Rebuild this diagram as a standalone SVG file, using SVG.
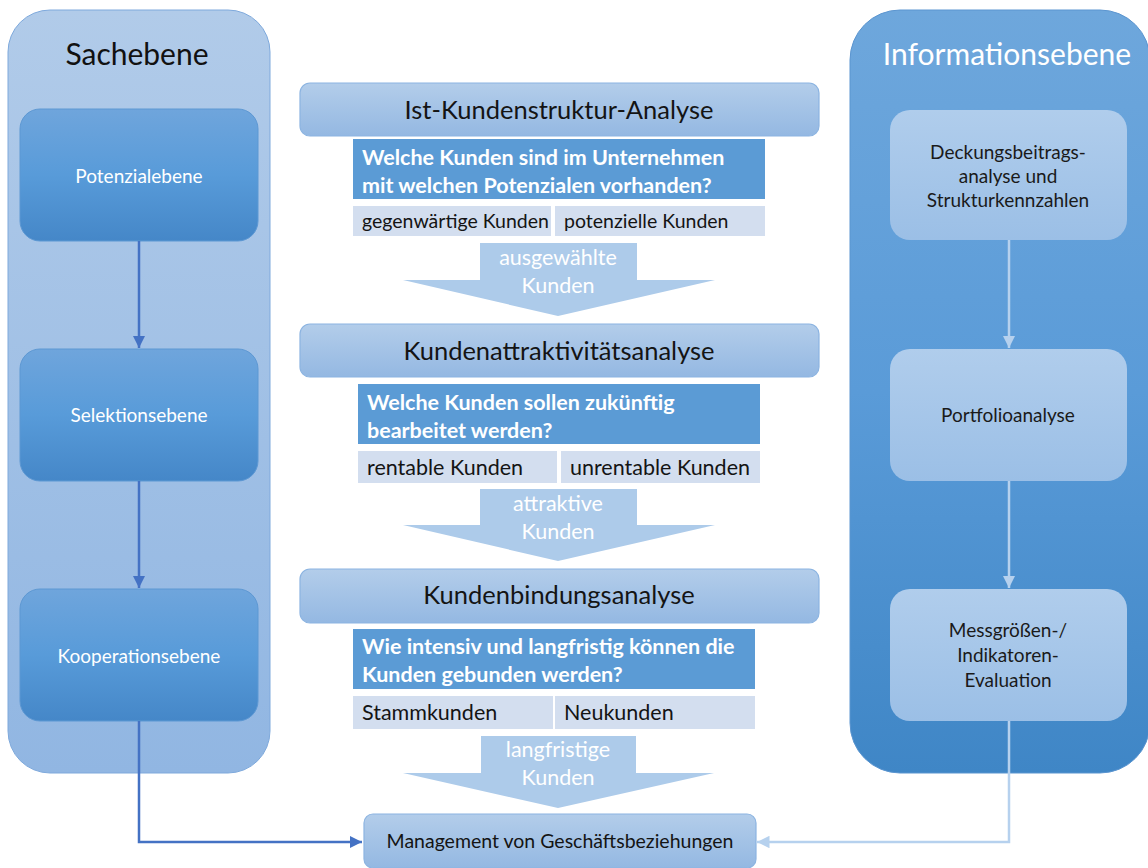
<svg xmlns="http://www.w3.org/2000/svg" width="1148" height="868" viewBox="0 0 1148 868">
  <defs>
    <linearGradient id="gLeftPanel" x1="0" y1="0" x2="0" y2="1">
      <stop offset="0" stop-color="#b1cbe9"/>
      <stop offset="1" stop-color="#91b6e2"/>
    </linearGradient>
    <linearGradient id="gLeftNode" x1="0" y1="0" x2="0" y2="1">
      <stop offset="0" stop-color="#6fa5dc"/>
      <stop offset="0.5" stop-color="#589bd9"/>
      <stop offset="1" stop-color="#4587c8"/>
    </linearGradient>
    <linearGradient id="gRightPanel" x1="0" y1="0" x2="0" y2="1">
      <stop offset="0" stop-color="#6ea7dc"/>
      <stop offset="0.5" stop-color="#5a9bd8"/>
      <stop offset="1" stop-color="#3f86c6"/>
    </linearGradient>
    <linearGradient id="gRightNode" x1="0" y1="0" x2="0" y2="1">
      <stop offset="0" stop-color="#b0cdec"/>
      <stop offset="1" stop-color="#9bbfe6"/>
    </linearGradient>
    <linearGradient id="gHeader" x1="0" y1="0" x2="0" y2="1">
      <stop offset="0" stop-color="#b3cdea"/>
      <stop offset="1" stop-color="#94b8e2"/>
    </linearGradient>
    <marker id="arrDark" viewBox="0 0 10 10" refX="10" refY="5" markerWidth="5" markerHeight="5" orient="auto" markerUnits="strokeWidth">
      <path d="M0,0 L10,5 L0,10 z" fill="#4472c4"/>
    </marker>
    <marker id="arrLight" viewBox="0 0 10 10" refX="10" refY="5" markerWidth="5" markerHeight="5" orient="auto" markerUnits="strokeWidth">
      <path d="M0,0 L10,5 L0,10 z" fill="#b6d1ee"/>
    </marker>
  </defs>
  <style>
    text { font-family: Lato, "Liberation Sans", sans-serif; }
    .panelL { fill: url(#gLeftPanel); stroke: #7ea9dc; stroke-width: 1; }
    .panelR { fill: url(#gRightPanel); stroke: #5b95d0; stroke-width: 1; }
    .nodeL { fill: url(#gLeftNode); stroke: #5d98d3; stroke-width: 1; }
    .nodeR { fill: url(#gRightNode); stroke: none; }
    .hdr { fill: url(#gHeader); stroke: #8cb4e1; stroke-width: 1.2; }
    .q { fill: #5b9bd5; }
    .sub { fill: #d3deef; }
    .flow { fill: #adcbea; }
    .ttl { font-size: 30px; text-anchor: middle; }
    .lbl { font-size: 19px; text-anchor: middle; }
    .hdrT { font-size: 25.5px; fill: #141414; text-anchor: middle; }
    .qT { font-size: 21.5px; font-weight: bold; fill: #ffffff; }
    .subT { font-size: 21.5px; fill: #141414; }
    .subS { font-size: 19.5px; fill: #141414; }
    .flowT { font-size: 21.5px; fill: #ffffff; text-anchor: middle; }
    .mgmt { font-size: 19.5px; fill: #141414; text-anchor: middle; }
    .dark { stroke: #4472c4; stroke-width: 2.5; fill: none; }
    .light { stroke: #b6d1ee; stroke-width: 2.5; fill: none; }
  </style>

  <!-- left column: Sachebene -->
  <g id="sachebene">
    <rect class="panelL" x="8" y="10" width="262" height="763" rx="42"/>
    <text class="ttl" x="137" y="65" fill="#111111">Sachebene</text>
  </g>
  <g id="potenzialebene">
    <rect class="nodeL" x="20" y="109" width="238" height="132" rx="20"/>
    <text class="lbl" x="139" y="183" fill="#ffffff">Potenzialebene</text>
  </g>
  <g id="selektionsebene">
    <rect class="nodeL" x="20" y="349" width="238" height="132" rx="20"/>
    <text class="lbl" x="139" y="422" fill="#ffffff">Selektionsebene</text>
  </g>
  <g id="kooperationsebene">
    <rect class="nodeL" x="20" y="589" width="238" height="132" rx="20"/>
    <text class="lbl" x="139" y="663" fill="#ffffff">Kooperationsebene</text>
  </g>

  <!-- right column: Informationsebene -->
  <g id="informationsebene">
    <rect class="panelR" x="850" y="10" width="300" height="763" rx="50"/>
    <text class="ttl" x="1007" y="65" fill="#ffffff">Informationsebene</text>
  </g>
  <g id="deckungsbeitrag">
    <rect class="nodeR" x="890" y="110" width="237" height="130" rx="20"/>
    <text class="lbl" x="1008" y="159" fill="#1a1a1a">Deckungsbeitrags-</text>
    <text class="lbl" x="1008" y="183" fill="#1a1a1a">analyse und</text>
    <text class="lbl" x="1008" y="207" fill="#1a1a1a">Strukturkennzahlen</text>
  </g>
  <g id="portfolioanalyse">
    <rect class="nodeR" x="890" y="349" width="237" height="132" rx="20"/>
    <text class="lbl" x="1008" y="422" fill="#1a1a1a">Portfolioanalyse</text>
  </g>
  <g id="messgroessen">
    <rect class="nodeR" x="890" y="589" width="237" height="132" rx="20"/>
    <text class="lbl" x="1008" y="637" fill="#1a1a1a">Messgrößen-/</text>
    <text class="lbl" x="1008" y="662" fill="#1a1a1a">Indikatoren-</text>
    <text class="lbl" x="1008" y="687" fill="#1a1a1a">Evaluation</text>
  </g>

  <!-- centre: analysis stage 1 -->
  <g id="ist-kundenstruktur">
    <rect class="hdr" x="300" y="83" width="519" height="53" rx="10"/>
    <text class="hdrT" x="559" y="119">Ist-Kundenstruktur-Analyse</text>
    <rect class="q" x="353" y="139" width="412" height="60"/>
    <text class="qT" x="362" y="165">Welche Kunden sind im Unternehmen</text>
    <text class="qT" x="362" y="193">mit welchen Potenzialen vorhanden?</text>
    <rect class="sub" x="353" y="206" width="198" height="30"/>
    <rect class="sub" x="555" y="206" width="210" height="30"/>
    <text class="subS" x="362" y="228">gegenwärtige Kunden</text>
    <text class="subS" x="564" y="228">potenzielle Kunden</text>
  </g>
  <g id="flow-ausgewaehlt">
    <path class="flow" d="M480,243 H637 V280 H715 L558,316 L403,280 H480 Z"/>
    <text class="flowT" x="558" y="265">ausgewählte</text>
    <text class="flowT" x="558" y="293">Kunden</text>
  </g>

  <!-- centre: analysis stage 2 -->
  <g id="kundenattraktivitaet">
    <rect class="hdr" x="300" y="324" width="519" height="53" rx="10"/>
    <text class="hdrT" x="559" y="360">Kundenattraktivitätsanalyse</text>
    <rect class="q" x="358" y="384" width="402" height="60"/>
    <text class="qT" x="367" y="410">Welche Kunden sollen zukünftig</text>
    <text class="qT" x="367" y="438">bearbeitet werden?</text>
    <rect class="sub" x="358" y="451" width="199" height="32"/>
    <rect class="sub" x="561" y="451" width="199" height="32"/>
    <text class="subT" x="367" y="475">rentable Kunden</text>
    <text class="subT" x="570" y="475">unrentable Kunden</text>
  </g>
  <g id="flow-attraktiv">
    <path class="flow" d="M480,489 H637 V525 H715 L558,561 L403,525 H480 Z"/>
    <text class="flowT" x="558" y="511">attraktive</text>
    <text class="flowT" x="558" y="539">Kunden</text>
  </g>

  <!-- centre: analysis stage 3 -->
  <g id="kundenbindung">
    <rect class="hdr" x="300" y="569" width="519" height="54" rx="10"/>
    <text class="hdrT" x="559" y="604">Kundenbindungsanalyse</text>
    <rect class="q" x="353" y="629" width="402" height="60"/>
    <text class="qT" x="362" y="654">Wie intensiv und langfristig können die</text>
    <text class="qT" x="362" y="682">Kunden gebunden werden?</text>
    <rect class="sub" x="353" y="696" width="200" height="33"/>
    <rect class="sub" x="555" y="696" width="200" height="33"/>
    <text class="subT" x="362" y="720">Stammkunden</text>
    <text class="subT" x="564" y="720">Neukunden</text>
  </g>
  <g id="flow-langfristig">
    <path class="flow" d="M481,736 H636 V773 H714 L558,808 L403,773 H481 Z"/>
    <text class="flowT" x="558" y="757">langfristige</text>
    <text class="flowT" x="558" y="785">Kunden</text>
  </g>

  <!-- result -->
  <g id="management">
    <rect class="hdr" x="364" y="814" width="392" height="54" rx="9"/>
    <text class="mgmt" x="560" y="848">Management von Geschäftsbeziehungen</text>
  </g>

  <!-- connectors -->
  <g id="connectors">
    <line class="dark" x1="139" y1="241" x2="139" y2="348" marker-end="url(#arrDark)"/>
    <line class="dark" x1="139" y1="481" x2="139" y2="588" marker-end="url(#arrDark)"/>
    <polyline class="dark" points="139,721 139,842 362,842" marker-end="url(#arrDark)"/>
    <line class="light" x1="1009" y1="240" x2="1009" y2="348" marker-end="url(#arrLight)"/>
    <line class="light" x1="1009" y1="481" x2="1009" y2="588" marker-end="url(#arrLight)"/>
    <polyline class="light" points="1009,721 1009,842 757,842" marker-end="url(#arrLight)"/>
  </g>
</svg>
